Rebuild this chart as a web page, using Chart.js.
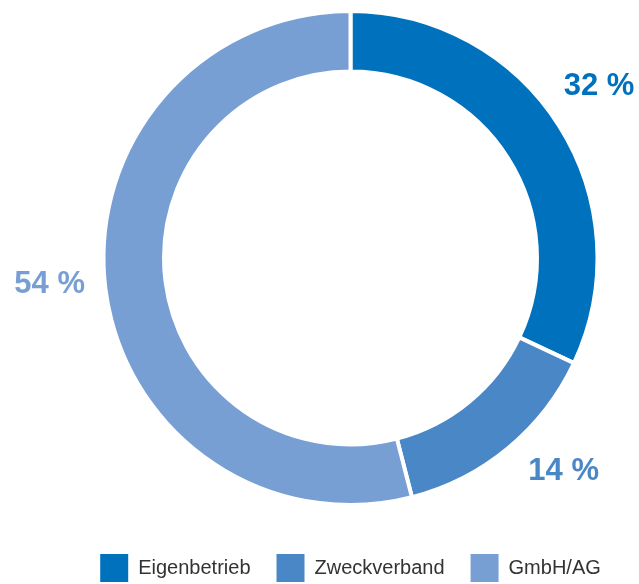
<!DOCTYPE html>
<html>
<head>
<meta charset="utf-8">
<script src="https://cdn.jsdelivr.net/npm/chart.js@4"></script>
<style>
  html, body { margin: 0; padding: 0; background: #fff; }
  #wrap { width: 639px; height: 584px; }
</style>
</head>
<body>
<div id="wrap"><canvas id="chart"></canvas></div>
<script>
// Rechtsform shares
const labels = ['Eigenbetrieb', 'Zweckverband', 'GmbH/AG'];
const shares = [32, 14, 54];
const colors = ['#0071bc', '#4a87c6', '#789fd4'];

// draw "xx %" outside each slice, near the middle angle
const sliceLabels = {
    id: 'sliceLabels',
    afterDraw(chart) {
        const ctx = chart.ctx;
        const meta = chart.getDatasetMeta(0);
        const nudge = [-2.2, -5.3, 2.1]; // degrees, hand placement like the original
        ctx.save();
        ctx.font = 'bold 31px "Liberation Sans", Arial, sans-serif';
        ctx.textAlign = 'center';
        ctx.textBaseline = 'middle';
        meta.data.forEach((arc, i) => {
            const p = arc.getProps(['x', 'y', 'startAngle', 'endAngle', 'outerRadius'], true);
            const mid = (p.startAngle + p.endAngle) / 2 + nudge[i] * Math.PI / 180;
            const r = p.outerRadius + 55;
            ctx.fillStyle = colors[i];
            ctx.fillText(shares[i] + ' %', p.x + Math.cos(mid) * r, p.y + Math.sin(mid) * r);
        });
        ctx.restore();
    }
};

new Chart(document.getElementById('chart'), {
    type: 'doughnut',
    data: {
        labels: labels,
        datasets: [{
            data: shares,
            backgroundColor: colors,
            borderColor: '#ffffff',
            borderWidth: 4
        }]
    },
    options: {
        responsive: true,
        maintainAspectRatio: false,
        animation: false,
        cutout: '75.5%',
        radius: 247,
        layout: { padding: { top: 0, left: 62, right: 0, bottom: -8 } },
        plugins: {
            legend: {
                position: 'bottom',
                // empty title only to push the ring up a bit
                title: { display: true, text: ' ', font: { size: 10 }, padding: 0 },
                labels: {
                    boxWidth: 28,
                    boxHeight: 28,
                    padding: 26,
                    color: '#333333',
                    font: { family: '"Liberation Sans", Arial, sans-serif', size: 20 },
                    generateLabels(chart) {
                        const items = Chart.overrides.doughnut.plugins.legend.labels.generateLabels(chart);
                        items.forEach(it => { it.lineWidth = 0; });
                        return items;
                    }
                }
            },
            tooltip: { enabled: false }
        }
    },
    plugins: [sliceLabels]
});
</script>
</body>
</html>
